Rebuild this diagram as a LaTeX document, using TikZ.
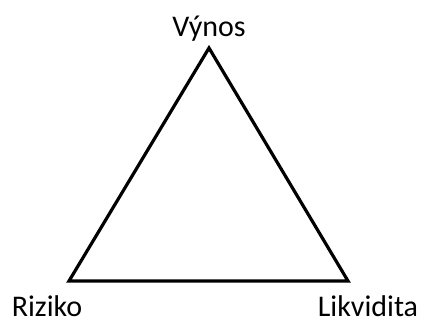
\documentclass[tikz,border=0pt]{standalone}
\usepackage{fontspec}
\setmainfont{Carlito}
\usetikzlibrary{positioning}

\begin{document}
\begin{tikzpicture}[x=1pt,y=-1pt,
    side/.style={line width=3.2pt,line join=miter},
    lbl/.style={font=\fontsize{30}{36}\selectfont,anchor=base,inner sep=0pt}]
\useasboundingbox (0,0) rectangle (424,320);
\coordinate (vynos) at (209,48);
\coordinate (riziko) at (69,281);
\coordinate (likvidita) at (348,281);
\draw[side] (riziko) -- (vynos) -- (likvidita) -- cycle;
\node[lbl] (tvynos) at (209,37) {Výnos};
\node[lbl] (triziko) at (47,317) {Riziko};
\node[lbl] (tlikvidita) at (368,317) {Likvidita};
\end{tikzpicture}
\end{document}
